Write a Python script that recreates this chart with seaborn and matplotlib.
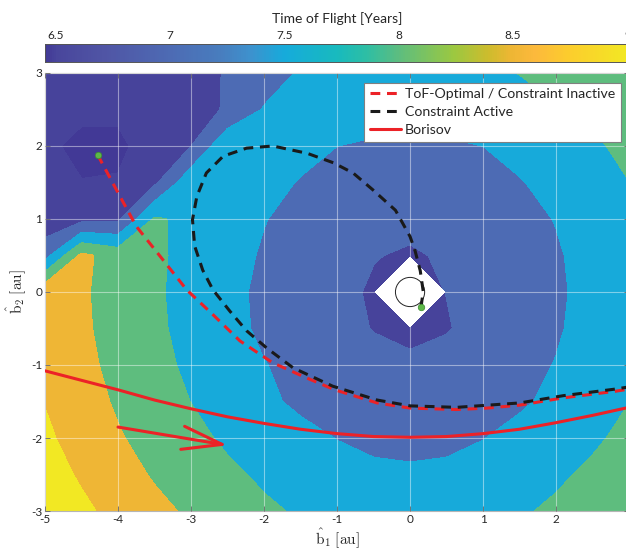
import numpy as np
import matplotlib
matplotlib.use("Agg")
import matplotlib.pyplot as plt
import seaborn as sns
from matplotlib.colors import LinearSegmentedColormap, Normalize
from matplotlib.cm import ScalarMappable
from matplotlib.patches import Circle

# grid of the ToF map
b1 = [-5, -4.5, -4, -3.5, -3, -2.5, -2, -1.5, -1, -0.5, 0, 0.5, 1, 1.5, 2, 2.5, 3]
b2 = [3, 2.5, 2, 1.5, 1, 0.5, 0, -0.5, -1, -1.5, -2, -2.5, -3]
tof = [
    [6.68, 6.65, 6.65, 6.75, 6.85, 7.03, 7.25, 7.55, 7.75, 7.83, 7.842, 7.859, 7.911, 8.01, 8.115, 8.26, 8.424],
    [6.60, 6.539, 6.526, 6.70, 6.80, 7.05, 7.53, 7.70, 7.68, 7.65, 7.628, 7.65, 7.711, 7.806, 7.97, 8.081, 8.26],
    [6.535, 6.454, 6.47, 6.564, 6.99, 7.90, 7.77, 7.628, 7.50, 7.455, 7.435, 7.455, 7.50, 7.628, 7.768, 7.928, 8.115],
    [6.60, 6.505, 6.51, 6.90, 7.85, 7.85, 7.628, 7.474, 7.372, 7.30, 7.274, 7.30, 7.372, 7.474, 7.628, 7.806, 7.993],
    [6.675, 6.85, 6.90, 8.05, 7.90, 7.75, 7.515, 7.372, 7.246, 7.151, 7.113, 7.151, 7.246, 7.372, 7.515, 7.711, 7.911],
    [7.30, 8.60, 8.30, 8.08, 7.859, 7.65, 7.455, 7.30, 7.151, 7.018, 6.95, 7.05, 7.151, 7.30, 7.455, 7.65, 7.859],
    [8.853, 8.559, 8.306, 8.063, 7.842, 7.628, 7.40, 7.274, 7.113, 6.947, np.nan, 7.005, 7.113, 7.274, 7.435, 7.628, 7.842],
    [8.868, 8.575, 8.321, 8.081, 7.859, 7.65, 7.41, 7.30, 7.151, 6.98, 6.844, 6.97, 7.151, 7.30, 7.455, 7.65, 7.859],
    [8.911, 8.623, 8.366, 8.131, 7.911, 7.711, 7.515, 7.372, 7.246, 7.151, 7.113, 7.151, 7.246, 7.372, 7.515, 7.711, 7.911],
    [8.982, 8.702, 8.438, 8.213, 7.993, 7.806, 7.57, 7.43, 7.33, 7.27, 7.25, 7.27, 7.33, 7.45, 7.58, 7.806, 7.993],
    [9.079, 8.808, 8.542, 8.321, 8.115, 7.928, 7.75, 7.60, 7.49, 7.42, 7.40, 7.42, 7.49, 7.60, 7.75, 7.928, 8.115],
    [9.20, 8.94, 8.686, 8.452, 8.26, 8.081, 7.928, 7.78, 7.64, 7.57, 7.55, 7.57, 7.64, 7.78, 7.928, 8.081, 8.26],
    [9.341, 9.093, 8.853, 8.623, 8.424, 8.26, 8.07, 7.95, 7.87, 7.82, 7.80, 7.82, 7.87, 7.95, 8.07, 8.26, 8.424],
]
levels = [6.4, 6.5, 7, 7.5, 8, 8.5, 9, 9.5]
cbar_lim = (6.454, 9.007)
cbar_ticks = [6.5, 7, 7.5, 8, 8.5, 9]
cbar_labels = ["6.5", "7", "7.5", "8", "8.5", "9"]

# trajectories
opt_x = [-4.28, -4.0, -3.75, -3.4, -3.06, -2.7, -2.33, -1.88, -1.41, -1.03, -0.45, 0.0, 0.64, 1.06, 1.5, 2.1, 2.81, 3.0]
opt_y = [1.88, 1.36, 0.9, 0.46, 0.03, -0.31, -0.67, -0.97, -1.18, -1.34, -1.52, -1.59, -1.61, -1.59, -1.55, -1.45, -1.36, -1.33]
act_x = [0.15, 0.18, 0.14, 0.07, 0.0, -0.2, -0.51, -0.78, -1.05, -1.41, -1.88, -2.24, -2.56, -2.79, -2.92, -2.98,
         -2.95, -2.84, -2.7, -2.47, -2.24, -1.96, -1.6, -1.06, -0.45, 0.0, 0.64, 1.5, 2.1, 2.81, 3.0]
act_y = [-0.21, 0.01, 0.29, 0.56, 0.76, 1.12, 1.4, 1.63, 1.77, 1.9, 2.0, 1.97, 1.86, 1.63, 1.31, 0.99,
         0.63, 0.30, 0.03, -0.26, -0.53, -0.77, -1.04, -1.29, -1.48, -1.56, -1.58, -1.52, -1.42, -1.33, -1.30]
bor_x = [-5, -4.5, -4, -3.5, -3, -2.5, -2, -1.5, -1, -0.5, 0, 0.5, 1, 1.5, 2, 2.5, 3]
bor_y = [-1.08, -1.21, -1.34, -1.48, -1.6, -1.71, -1.8, -1.88, -1.94, -1.98, -1.99, -1.98, -1.94, -1.88, -1.79, -1.69, -1.58]
arrow_start = (-4.0, -1.85)
arrow_end = (-2.5, -2.1)
dots_x = [-4.28, 0.15]
dots_y = [1.88, -0.21]
circle_r = 0.2

# parula-like colours as they appear in the picture
anchors = [
    (0.000, (66, 57, 150)), (0.020, (73, 70, 156)), (0.100, (80, 85, 165)),
    (0.214, (77, 107, 180)), (0.300, (72, 125, 190)), (0.350, (62, 145, 205)),
    (0.410, (22, 171, 219)), (0.500, (24, 186, 190)), (0.550, (45, 190, 165)),
    (0.605, (92, 189, 128)), (0.700, (155, 200, 65)), (0.760, (205, 188, 45)),
    (0.800, (238, 182, 52)), (0.840, (252, 185, 60)), (0.900, (252, 205, 45)),
    (1.000, (242, 232, 35)),
]
parula = LinearSegmentedColormap.from_list(
    "parula_like", [(p, tuple(c / 255 for c in rgb)) for p, rgb in anchors])
norm = Normalize(*cbar_lim)
band_colors = [parula(norm(max(lv, cbar_lim[0]))) for lv in levels[:-1]]

sns.set_theme(style="ticks")
plt.rcParams["font.family"] = ["Lato", "DejaVu Sans"]
plt.rcParams["mathtext.fontset"] = "cm"
plt.rcParams["axes.unicode_minus"] = False

fig = plt.figure(figsize=(6.26, 5.5), dpi=100)
ax = fig.add_axes([0.0719, 0.0709, 0.933, 0.7964])

X, Y = np.meshgrid(b1, b2)
Z = np.ma.masked_invalid(np.array(tof))
cs = ax.contourf(X, Y, Z, levels=levels, colors=band_colors, corner_mask=True, zorder=1)
cs.set_edgecolor("face")
cs.set_linewidth(0.4)

red = "#ec2227"
sns.lineplot(x=opt_x, y=opt_y, sort=False, estimator=None, ax=ax, color=red, lw=2.2,
             linestyle=(0, (3.2, 2.2)), label="ToF-Optimal / Constraint Inactive", zorder=3)
sns.lineplot(x=act_x, y=act_y, sort=False, estimator=None, ax=ax, color="#1a1a1a", lw=2.2,
             linestyle=(0, (3.2, 2.2)), label="Constraint Active", zorder=4)
sns.lineplot(x=bor_x, y=bor_y, sort=False, estimator=None, ax=ax, color=red, lw=2.2,
             label="Borisov", zorder=3)
ax.annotate("", xy=arrow_end, xytext=arrow_start, zorder=3,
            arrowprops=dict(arrowstyle="->,head_length=2.4,head_width=0.7", color=red, lw=2.2,
                            shrinkA=0, shrinkB=0))
ax.add_patch(Circle((0, 0), circle_r, fill=False, ec="#222222", lw=0.7, zorder=3))
sns.scatterplot(x=dots_x, y=dots_y, ax=ax, color="#5cb848", s=22, edgecolor="#3d8a30",
                linewidth=0.5, zorder=5, legend=False)

ax.set_xlim(-5, 3)
ax.set_ylim(-3, 3)
ax.set_xticks(range(-5, 4))
ax.set_yticks(range(-3, 4))
ax.set_axisbelow(False)
ax.grid(True, color="white", alpha=0.45, lw=0.8)
ax.tick_params(direction="in", length=3.5, width=0.6, color="#666666", labelcolor="#262626",
               labelsize=8.5, pad=2, top=True, right=True)
for s in ax.spines.values():
    s.set_color("#b5b5b5")
    s.set_linewidth(0.8)
ax.set_xlabel(r"$\hat{\mathrm{b}}_1\ [\mathrm{au}]$", fontsize=11, color="#262626", labelpad=1)
ax.set_ylabel(r"$\hat{\mathrm{b}}_2\ [\mathrm{au}]$", fontsize=11, color="#262626", labelpad=2)

leg = ax.legend(loc="upper right", bbox_to_anchor=(0.986, 0.978), fontsize=10.2, frameon=True,
                fancybox=False, edgecolor="#808080", framealpha=1, handlelength=2.2,
                handletextpad=0.3, borderpad=0.4, labelspacing=0.42, borderaxespad=0)
leg.get_frame().set_linewidth(0.8)

cax = fig.add_axes([0.0719, 0.8873, 0.933, 0.0327])
cb = fig.colorbar(ScalarMappable(norm=norm, cmap=parula), cax=cax, orientation="horizontal")
cax.xaxis.set_ticks_position("top")
cax.xaxis.set_label_position("top")
cb.set_ticks(cbar_ticks)
cb.set_ticklabels(cbar_labels)
cax.tick_params(direction="in", length=4, width=0.6, color="#444444", labelcolor="#262626",
                labelsize=8.5, pad=2)
cb.outline.set_edgecolor("#555555")
cb.outline.set_linewidth(0.7)
cb.set_label("Time of Flight [Years]", fontsize=10, color="#262626", labelpad=5)

fig.savefig("out.png", dpi=100)
